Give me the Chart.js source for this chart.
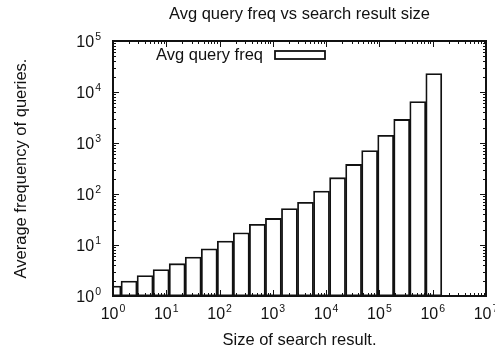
<!DOCTYPE html>
<html>
<head>
<meta charset="utf-8">
<script src="https://cdn.jsdelivr.net/npm/chart.js@4"></script>
<style>
  body { margin: 0; background: #fff; }
  #wrap { width: 495px; height: 351px; }
</style>
</head>
<body>
<div id="wrap"><canvas id="freqChart" width="495" height="351"></canvas></div>
<script>
// bin centres (result size) and average query frequency per bin
const resultSizes = [1, 2, 4, 8, 16, 32, 64, 128, 256, 512, 1024, 2048, 4096, 8192,
  16384, 32768, 65536, 131072, 262144, 524288, 1048576];
const avgFreq = [1.57, 1.97, 2.52, 3.3, 4.3, 5.8, 8.4, 12.0, 17.4, 25.4, 33.2, 52,
  69, 114, 209, 380, 714, 1420, 2900, 6500, 23000];
// tick labels are 10^exp
const xTickExps = [0, 1, 2, 3, 4, 5, 6, 7];
const yTickExps = [0, 1, 2, 3, 4, 5];
const seriesName = 'Avg query freq';

const FONT = "'Liberation Sans', Arial, sans-serif";
const INK = '#111';

function majorTicks(exps) {
  return function(scale) {
    scale.ticks = exps.map(e => ({ value: Math.pow(10, e) }));
  };
}

function drawPow(ctx, exp, x, y, align) {
  ctx.font = '16px ' + FONT;
  const wBase = ctx.measureText('10').width;
  ctx.font = '10.5px ' + FONT;
  const wExp = ctx.measureText(String(exp)).width;
  const w = wBase + wExp + 1;
  const x0 = align === 'center' ? x - w / 2 : x - w;
  ctx.textAlign = 'left';
  ctx.textBaseline = 'middle';
  ctx.font = '16px ' + FONT;
  ctx.fillText('10', x0, y);
  ctx.font = '10.5px ' + FONT;
  ctx.fillText(String(exp), x0 + wBase + 1, y - 6);
}

// gnuplot-like frame, inward ticks on all sides, tick labels and key
const frame = {
  id: 'frame',
  afterDraw(chart) {
    const { ctx, chartArea: a, scales: { x, y } } = chart;
    ctx.save();
    ctx.strokeStyle = INK;
    ctx.fillStyle = INK;
    ctx.lineWidth = 1;
    ctx.beginPath();
    xTickExps.forEach(e => {
      for (let m = 1; m < 10; m++) {
        const v = m * Math.pow(10, e);
        if (v > x.max) break;
        const px = Math.round(x.getPixelForValue(v)) + 0.5;
        const len = m === 1 ? 6 : 3;
        ctx.moveTo(px, a.bottom); ctx.lineTo(px, a.bottom - len);
        ctx.moveTo(px, a.top); ctx.lineTo(px, a.top + len);
      }
    });
    yTickExps.forEach(e => {
      for (let m = 1; m < 10; m++) {
        const v = m * Math.pow(10, e);
        if (v > y.max) break;
        const py = Math.round(y.getPixelForValue(v)) + 0.5;
        const len = m === 1 ? 6 : 3;
        ctx.moveTo(a.left, py); ctx.lineTo(a.left + len, py);
        ctx.moveTo(a.right, py); ctx.lineTo(a.right - len, py);
      }
    });
    ctx.stroke();
    ctx.lineWidth = 2;
    ctx.strokeRect(a.left, a.top, a.right - a.left, a.bottom - a.top);

    xTickExps.forEach(e => drawPow(ctx, e, x.getPixelForValue(Math.pow(10, e)), a.bottom + 19, 'center'));
    yTickExps.forEach(e => drawPow(ctx, e, a.left - 12, y.getPixelForValue(Math.pow(10, e)) + 2, 'right'));

    // key
    ctx.font = '16.5px ' + FONT;
    ctx.textAlign = 'right';
    ctx.textBaseline = 'middle';
    ctx.fillText(seriesName, a.left + 150, a.top + 14);
    ctx.fillStyle = '#fff';
    ctx.lineWidth = 1.8;
    ctx.fillRect(a.left + 162, a.top + 10, 50, 8);
    ctx.strokeRect(a.left + 162, a.top + 10, 50, 8);
    ctx.restore();
  }
};

const ctx = document.getElementById('freqChart').getContext('2d');

new Chart(ctx, {
  type: 'bar',
  data: {
    datasets: [{
      label: seriesName,
      data: resultSizes.map((s, i) => ({ x: s, y: avgFreq[i] })),
      backgroundColor: '#fff',
      borderColor: INK,
      borderWidth: 1.8,
      borderSkipped: false,
      barPercentage: 1,
      categoryPercentage: 1
    }]
  },
  options: {
    responsive: false,
    animation: false,
    layout: { padding: { left: 0, right: 9, top: 0, bottom: 0 } },
    plugins: {
      legend: { display: false },
      tooltip: { enabled: false },
      title: {
        display: true,
        fullSize: false,
        text: 'Avg query freq vs search result size',
        color: INK,
        font: { family: FONT, size: 16.5, weight: 'normal' },
        padding: { top: 5, bottom: 16.2 }
      }
    },
    scales: {
      x: {
        type: 'logarithmic',
        min: 1,
        max: 1e7,
        offset: false,
        afterBuildTicks: majorTicks(xTickExps),
        afterFit(scale) { scale.height = 55; scale.paddingLeft = 0; scale.paddingRight = 0; },
        ticks: { display: false },
        grid: { display: false, offset: false },
        border: { display: false },
        title: {
          display: true,
          text: 'Size of search result.',
          color: INK,
          font: { family: FONT, size: 16.5 },
          padding: { top: 0, bottom: 1 }
        }
      },
      y: {
        type: 'logarithmic',
        min: 1,
        max: 1e5,
        afterBuildTicks: majorTicks(yTickExps),
        afterFit(scale) { scale.width = 113; scale.paddingTop = 0; scale.paddingBottom = 0; },
        ticks: { display: false },
        grid: { display: false },
        border: { display: false },
        title: {
          display: true,
          text: 'Average frequency of queries.',
          color: INK,
          font: { family: FONT, size: 16.5 },
          padding: { top: 12, bottom: 0 }
        }
      }
    }
  },
  plugins: [frame]
});
</script>
</body>
</html>
